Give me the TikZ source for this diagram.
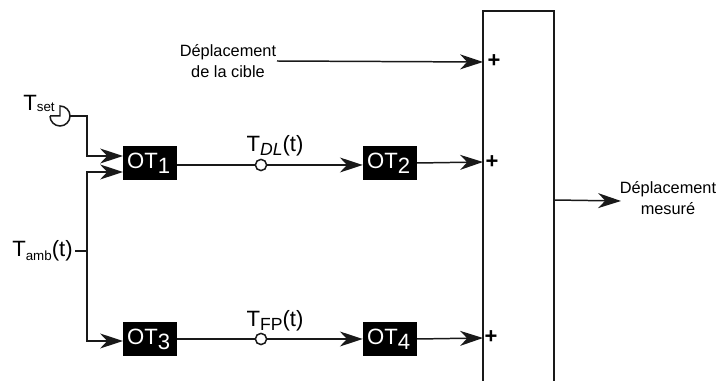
\documentclass[tikz,border=0pt]{standalone}
\usepackage{fontspec}
\setmainfont{Liberation Sans}
\usetikzlibrary{arrows.meta}

\newcommand{\lowtxt}[1]{\raisebox{-2.2pt}{\fontsize{7.6}{9}\selectfont #1}}
\newcommand{\lownum}[1]{\raisebox{-2.8pt}{#1}}
\tikzset{
  wire/.style={line width=0.85pt, draw=black!90},
  flow/.style={wire, -{Stealth[length=13pt, width=8.5pt, inset=4pt]}},
  otbox/.style={fill=black, text=white, minimum width=30.6pt, minimum height=19.2pt, inner sep=0pt, font=\fontsize{12.6}{14}\selectfont},
  tap/.style={circle, draw=black!90, fill=white, line width=0.85pt, minimum size=6.4pt, inner sep=0pt},
  lab/.style={inner sep=0pt, font=\fontsize{12.6}{14}\selectfont},
  note/.style={inner sep=0pt, align=center, font=\fontsize{9.3}{12}\selectfont},
  plus/.style={inner sep=0pt, font=\fontsize{12.5}{14}\selectfont\bfseries}
}

\begin{document}
\begin{tikzpicture}[x=0.02cm, y=-0.02cm]
\useasboundingbox (0,0) rectangle (718,381);

% blocks
\node[otbox] (ot1) at (150,163) {\hspace*{-1.5pt}OT\lownum{1}};
\node[otbox] (ot2) at (390,163) {\hspace*{-1.5pt}OT\lownum{2}};
\node[otbox] (ot3) at (150,339) {\hspace*{-1.5pt}OT\lownum{3}};
\node[otbox] (ot4) at (390,339) {\hspace*{-1.5pt}OT\lownum{4}};
\node[tap] (tapdl) at (261,165) {};
\node[tap] (tapfp) at (261,339) {};

% open frame
\coordinate (framebl) at (483,381);
\coordinate (frametl) at (483,11);
\coordinate (frametr) at (554,11);
\coordinate (framebr) at (554,381);
\draw[wire] (framebl) -- (frametl) -- (frametr) -- (framebr);

% labels
\node[lab] (tset) at (39,103) {T\raisebox{-0.6pt}{\fontsize{7.6}{9}\selectfont set}};
\node[lab, anchor=east] (tamb) at (73,251) {T\lowtxt{amb}(t)};
\node[lab] (tdl) at (275,146) {T\raisebox{-2.2pt}{\fontsize{10}{12}\selectfont\itshape DL}(t)};
\node[lab] (tfp) at (275,321) {T\raisebox{-2.2pt}{\fontsize{10}{12}\selectfont FP}(t)};
\node[note] (cible) at (228,61) {Déplacement\\de la cible};
\node[note] (mesure) at (668,198) {Déplacement\\mesuré};
\node[plus] (plusa) at (494,61) {+};
\node[plus] (plusb) at (492,162) {+};
\node[plus] (plusc) at (491,337) {+};

% setpoint symbol
\coordinate (symb) at (70,116);
\draw[wire] (50,116) arc (180:0:10) arc (0:-90:10) -- (60,116) -- (50,116);

% temperature inputs
\coordinate (bus) at (87,251);
\coordinate (inset) at (123,156);
\coordinate (inamb) at (123,172);
\coordinate (inthree) at (123,341);
\draw[flow] (symb) -- (87,116) -- (87,156) -- (inset);
\draw[flow] (bus) -- (87,172) -- (inamb);
\draw[flow] (bus) -- (87,341) -- (inthree);
\draw[wire] (tamb.east) ++(2,0) coordinate (ambend) -- (bus);

% chains
\draw[wire] (ot1.east |- tapdl) -- (tapdl);
\draw[flow] (tapdl) -- (ot2.west |- tapdl);
\draw[wire] (ot3.east |- tapfp) -- (tapfp);
\draw[flow] (tapfp) -- (ot4.west |- tapfp);

% summing inputs
\coordinate (ina) at (483,62);
\coordinate (inb) at (483,162);
\coordinate (inc) at (483,338);
\coordinate (cibleend) at (277,61);
\coordinate (outa) at (554,200);
\coordinate (outb) at (621,201);
\draw[flow] (cibleend) -- (ina);
\draw[flow] (ot2.east) -- (inb);
\draw[flow] (ot4.east) -- (inc);
\draw[flow] (outa) -- (outb);
\end{tikzpicture}
\end{document}
